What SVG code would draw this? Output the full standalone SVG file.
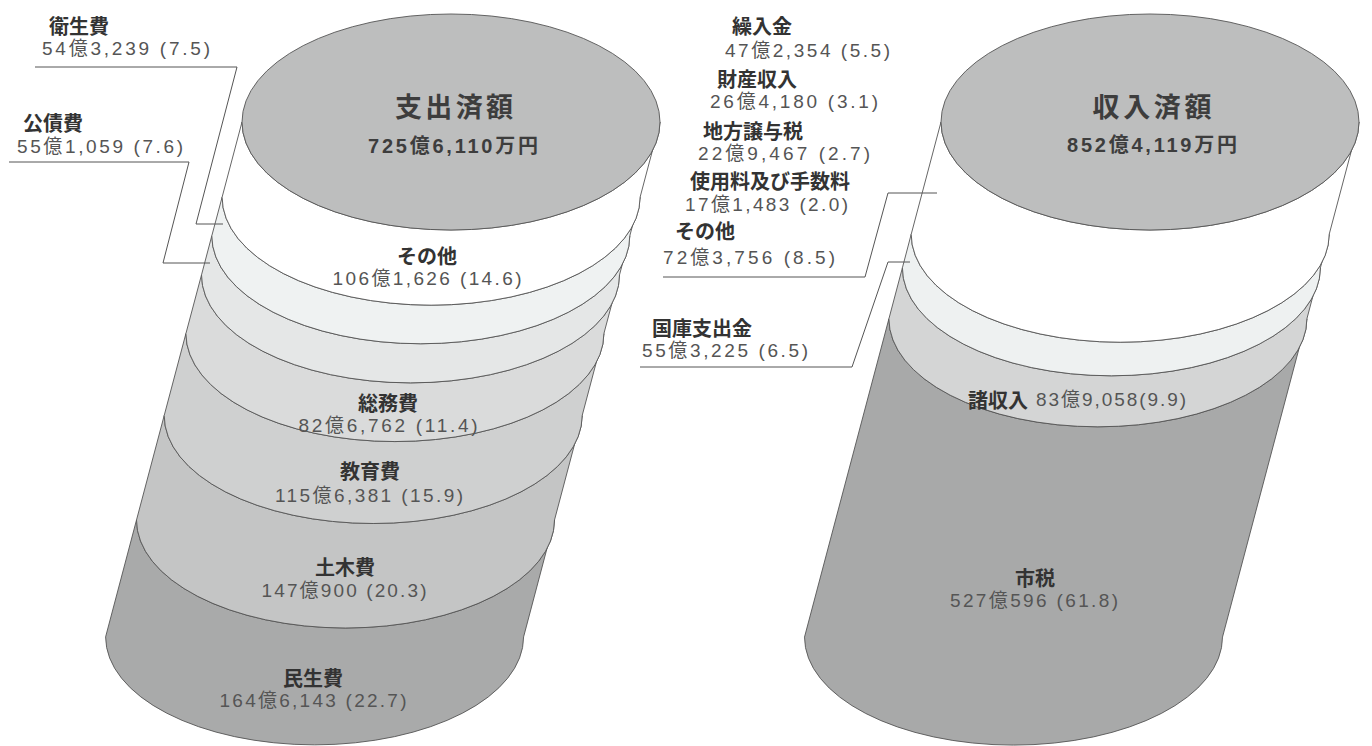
<svg xmlns="http://www.w3.org/2000/svg" width="1372" height="746" viewBox="0 0 1372 746">
<style>
.band{stroke:#555;stroke-width:0.9;stroke-linejoin:round}
.top{fill:#bdbebe;stroke:#555;stroke-width:0.9}
.hd{font-family:"Noto Sans CJK JP","Noto Sans",sans-serif;font-weight:700;font-size:20px;fill:#333;dominant-baseline:central}
.num{font-family:"Liberation Sans Narrow","Liberation Sans","Noto Sans CJK JP",sans-serif;font-weight:400;font-size:19px;fill:#555;dominant-baseline:central}
.ttl{font-family:"Noto Sans CJK JP","Noto Sans",sans-serif;font-weight:700;font-size:27px;fill:#3d3d3d;dominant-baseline:central}
.ttn{font-family:"Liberation Sans Narrow","Liberation Sans","Noto Sans CJK JP",sans-serif;font-weight:700;font-size:20px;fill:#3d3d3d;dominant-baseline:central}
.lead{fill:none;stroke:#555;stroke-width:1}
</style>
<rect width="1372" height="746" fill="#ffffff"/>

<!-- Expense cylinder -->
<g id="expense">
  <g id="minsei">
    <path class="band" fill="#a9aaaa" d="M136.5,520 L105.6,636.9 A209,108 0 0 0 523.6,636.9 L554.5,520 A209,108 0 0 1 136.5,520 Z"/>
    <text class="hd" x="313" y="677" text-anchor="middle">民生費</text>
    <text class="num" x="313" y="700" text-anchor="middle" textLength="187" lengthAdjust="spacing">164億6,143 (22.7)</text>
  </g>
  <g id="doboku">
    <path class="band" fill="#c4c5c5" d="M164.2,415.5 L136.5,520 A209,108 0 0 0 554.5,520 L582.2,415.5 A209,108 0 0 1 164.2,415.5 Z"/>
    <text class="hd" x="345" y="566" text-anchor="middle">土木費</text>
    <text class="num" x="344" y="590" text-anchor="middle" textLength="165" lengthAdjust="spacing">147億900 (20.3)</text>
  </g>
  <g id="kyoiku">
    <path class="band" fill="#cfd0d0" d="M185.9,333.6 L164.2,415.5 A209,108 0 0 0 582.2,415.5 L603.9,333.6 A209,108 0 0 1 185.9,333.6 Z"/>
    <text class="hd" x="370" y="470" text-anchor="middle">教育費</text>
    <text class="num" x="369" y="495" text-anchor="middle" textLength="188" lengthAdjust="spacing">115億6,381 (15.9)</text>
  </g>
  <g id="somu">
    <path class="band" fill="#dadbdb" d="M201.5,274.9 L185.9,333.6 A209,108 0 0 0 603.9,333.6 L619.5,274.9 A209,108 0 0 1 201.5,274.9 Z"/>
    <text class="hd" x="388" y="402" text-anchor="middle">総務費</text>
    <text class="num" x="388" y="425" text-anchor="middle" textLength="179" lengthAdjust="spacing">82億6,762 (11.4)</text>
  </g>
  <g id="kosai">
    <path class="band" fill="#e5e7e7" d="M211.8,235.8 L201.5,274.9 A209,108 0 0 0 619.5,274.9 L629.8,235.8 A209,108 0 0 1 211.8,235.8 Z"/>
    <text class="hd" x="23" y="122">公債費</text>
    <text class="num" x="17" y="146" textLength="166" lengthAdjust="spacing">55億1,059 (7.6)</text>
  </g>
  <g id="eisei">
    <path class="band" fill="#eff2f2" d="M222.1,197.2 L211.8,235.8 A209,108 0 0 0 629.8,235.8 L640.1,197.2 A209,108 0 0 1 222.1,197.2 Z"/>
    <text class="hd" x="49" y="25">衛生費</text>
    <text class="num" x="42" y="48" textLength="168" lengthAdjust="spacing">54億3,239 (7.5)</text>
  </g>
  <g id="sonota-exp">
    <path class="band" fill="#ffffff" d="M242,122 L222.1,197.2 A209,108 0 0 0 640.1,197.2 L660,122 A209,108 0 0 1 242,122 Z"/>
    <text class="hd" x="427" y="255" text-anchor="middle">その他</text>
    <text class="num" x="427" y="278" text-anchor="middle" textLength="189" lengthAdjust="spacing">106億1,626 (14.6)</text>
  </g>
  <g id="expense-total">
    <ellipse class="top" cx="451" cy="122" rx="209" ry="108"/>
    <text class="ttl" x="454" y="105" text-anchor="middle" textLength="118" lengthAdjust="spacing">支出済額</text>
    <text class="ttn" x="453" y="146" text-anchor="middle" textLength="170" lengthAdjust="spacing">725億6,110万円</text>
  </g>
</g>

<!-- Revenue cylinder -->
<g id="revenue">
  <g id="shizei">
    <path class="band" fill="#a8a9a9" d="M888.9,318.8 L804.5,637.1 A209,108 0 0 0 1222.5,637.1 L1306.9,318.8 A209,108 0 0 1 888.9,318.8 Z"/>
    <text class="hd" x="1035" y="577" text-anchor="middle">市税</text>
    <text class="num" x="1034" y="600" text-anchor="middle" textLength="168" lengthAdjust="spacing">527億596 (61.8)</text>
  </g>
  <g id="shoshunyu">
    <path class="band" fill="#d4d5d5" d="M902.4,267.8 L888.9,318.8 A209,108 0 0 0 1306.9,318.8 L1320.4,267.8 A209,108 0 0 1 902.4,267.8 Z"/>
    <text class="hd" x="968" y="399">諸収入</text>
    <text class="num" x="1036" y="399" textLength="150" lengthAdjust="spacing">83億9,058(9.9)</text>
  </g>
  <g id="kokko">
    <path class="band" fill="#eef1f1" d="M911.2,234.3 L902.4,267.8 A209,108 0 0 0 1320.4,267.8 L1329.2,234.3 A209,108 0 0 1 911.2,234.3 Z"/>
    <text class="hd" x="652" y="327">国庫支出金</text>
    <text class="num" x="642" y="350" textLength="166" lengthAdjust="spacing">55億3,225 (6.5)</text>
  </g>
  <g id="others-rev">
    <path class="band" fill="#ffffff" d="M941,122 L911.2,234.3 A209,108 0 0 0 1329.2,234.3 L1359,122 A209,108 0 0 1 941,122 Z"/>
    <text class="hd" x="732" y="25">繰入金</text>
    <text class="num" x="725" y="50" textLength="165" lengthAdjust="spacing">47億2,354 (5.5)</text>
    <text class="hd" x="717" y="78">財産収入</text>
    <text class="num" x="710" y="101" textLength="168" lengthAdjust="spacing">26億4,180 (3.1)</text>
    <text class="hd" x="703" y="130">地方譲与税</text>
    <text class="num" x="698" y="153" textLength="172" lengthAdjust="spacing">22億9,467 (2.7)</text>
    <text class="hd" x="690" y="180">使用料及び手数料</text>
    <text class="num" x="685" y="204" textLength="163" lengthAdjust="spacing">17億1,483 (2.0)</text>
    <text class="hd" x="675" y="230">その他</text>
    <text class="num" x="663" y="257" textLength="172" lengthAdjust="spacing">72億3,756 (8.5)</text>
  </g>
  <g id="revenue-total">
    <ellipse class="top" cx="1150" cy="122" rx="209" ry="108"/>
    <text class="ttl" x="1152" y="105" text-anchor="middle" textLength="119" lengthAdjust="spacing">収入済額</text>
    <text class="ttn" x="1152" y="145" text-anchor="middle" textLength="170" lengthAdjust="spacing">852億4,119万円</text>
  </g>
</g>

<!-- Connectors -->
<g id="connectors">
  <polyline class="lead" points="35,67 237,67 196,224 223,224"/>
  <polyline class="lead" points="9,162 189,162 163,263 210,263"/>
  <polyline class="lead" points="663,277 865,277 888,193 937,193"/>
  <polyline class="lead" points="640,367 852,367 888,262 910,262"/>
</g>
</svg>
